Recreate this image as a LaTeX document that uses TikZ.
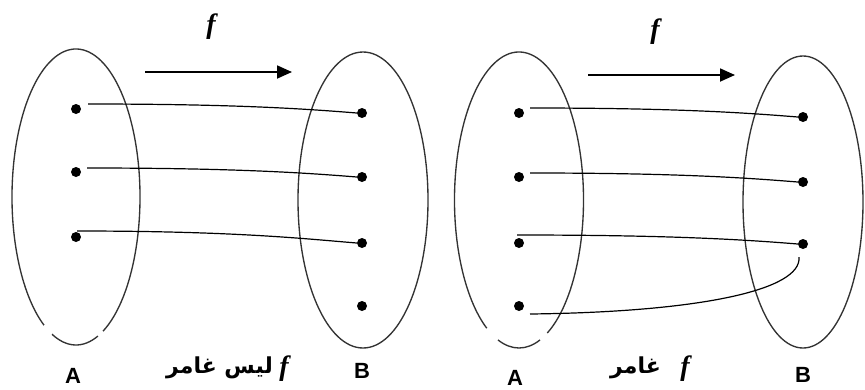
\documentclass[tikz,border=0pt]{standalone}
\usepackage{fontspec}
\setmainfont{Liberation Serif}
\newfontface\labbold{Liberation Sans Bold}
\newfontfamily\arabicfont[Script=Arabic]{DejaVu Sans}
\TeXXeTstate=1
\usetikzlibrary{arrows.meta}
\newcommand{\setlab}[1]{{\labbold\fontsize{22}{24}\selectfont #1}}
\begin{document}
\begin{tikzpicture}[x=1pt,y=1pt,
  setline/.style={line width=1.35pt, black!80},
  dot/.style={circle, fill=black, inner sep=0pt, minimum size=10pt},
  conn/.style={line width=1.2pt, black},
  maparrow/.style={line width=1.8pt, -{Triangle[length=15pt,width=13pt]}},
  flabel/.style={font=\fontsize{28}{30}\selectfont\bfseries\itshape},
  setlabel/.style={inner sep=0pt},
  arlabel/.style={font=\arabicfont\fontsize{22}{24}\selectfont\bfseries}]
\useasboundingbox (0,0) rectangle (865,-389);

% ---- left diagram: ellipses ----
\draw[setline] ([shift={(-65:64 and 148)}]76,-197) arc[start angle=-65, end angle=240, x radius=64, y radius=148];
\draw[setline] ([shift={(-112:64 and 148)}]76,-197) arc[start angle=-112, end angle=-70, x radius=64, y radius=148];
\draw[setline] (363,-200) ellipse[x radius=65, y radius=148];

% ---- right diagram: ellipses ----
\draw[setline] ([shift={(-64:64.5 and 148)}]519,-200) arc[start angle=-64, end angle=240, x radius=64.5, y radius=148];
\draw[setline] ([shift={(-109:64.5 and 148)}]519,-200) arc[start angle=-109, end angle=-71, x radius=64.5, y radius=148];
\draw[setline] (803,-202) ellipse[x radius=60, y radius=146];

% ---- dots ----
\node[dot] (a11) at (76,-109) {};
\node[dot] (a12) at (76,-172) {};
\node[dot] (a13) at (76,-237) {};
\node[dot] (b11) at (362,-113) {};
\node[dot] (b12) at (362,-177) {};
\node[dot] (b13) at (362,-243) {};
\node[dot] (b14) at (362,-306) {};

\node[dot] (a21) at (519,-113) {};
\node[dot] (a22) at (519,-177) {};
\node[dot] (a23) at (519,-243) {};
\node[dot] (a24) at (519,-306) {};
\node[dot] (b21) at (803,-117) {};
\node[dot] (b22) at (803,-182) {};
\node[dot] (b23) at (803,-244) {};

% ---- connectors left ----
\draw[conn] ([shift={(12,5)}]a11.center) .. controls +(150,0) and +(-50,4) .. (b11.west);
\draw[conn] ([shift={(11,4)}]a12.center) .. controls +(150,0) and +(-50,4) .. (b12.west);
\draw[conn] ([shift={(1,6)}]a13.center) .. controls +(160,0) and +(-50,4) .. (b13.west);

% ---- connectors right ----
\draw[conn] ([shift={(11,5)}]a21.center) .. controls +(150,0) and +(-50,4) .. (b21.west);
\draw[conn] ([shift={(11,4)}]a22.center) .. controls +(150,0) and +(-50,4) .. (b22.west);
\draw[conn] ([shift={(-2,8)}]a23.center) .. controls +(160,0) and +(-50,4) .. (b23.west);
\draw[conn] ([shift={(11,-8)}]a24.center) .. controls +(170,2) and +(3,-33) .. ([shift={(-4,-13)}]b23.center);

% ---- arrows ----
\coordinate (l1) at (145,-72);
\coordinate (l2) at (292,-72);
\draw[maparrow] (l1) -- (l2);
\node[flabel] (f1) at (211,-27) {f};

\coordinate (r1) at (588,-75);
\coordinate (r2) at (735,-75);
\draw[maparrow] (r1) -- (r2);
\node[flabel] (f2) at (655,-32) {f};

% ---- bottom labels ----
\node[setlabel] (A1) at (73,-376) {\setlab{A}};
\node[setlabel] (B1) at (362,-371) {\setlab{B}};
\node[setlabel] (A2) at (515,-378) {\setlab{A}};
\node[setlabel] (B2) at (803,-375) {\setlab{B}};

\node[flabel] (fl) at (284,-369) {f};
\node[arlabel, anchor=east, inner sep=0pt] (tl) at (273,-368) {\beginR ليس غامر\endR};
\node[flabel] (fr) at (685,-369) {f};
\node[arlabel, anchor=east, inner sep=0pt] (tr) at (661,-368) {\beginR غامر\endR};
\end{tikzpicture}
\end{document}
